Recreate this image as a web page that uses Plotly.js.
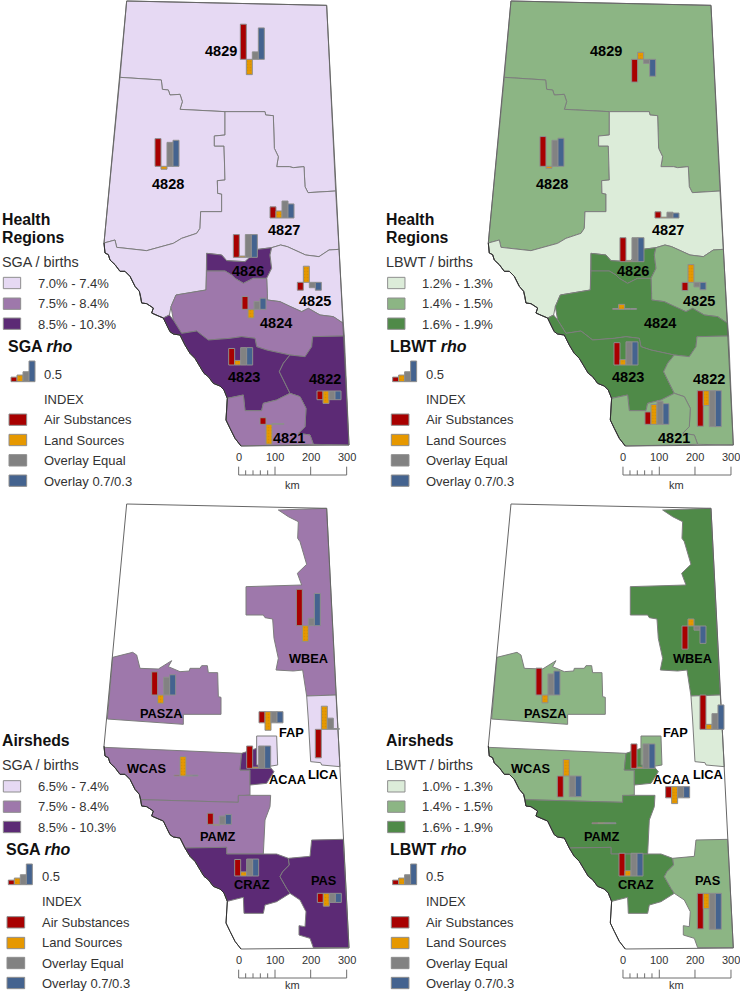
<!DOCTYPE html>
<html>
<head>
<meta charset="utf-8">
<script src="https://cdn.plot.ly/plotly-3.0.1.min.js"></script>
<style>html,body{margin:0;padding:0;background:#fff}#chart{width:740px;height:992px}</style>
</head>
<body>
<div id="chart"></div>
<script>
// map units: 3 per screen pixel, each panel has its own pair of axes
var indexNames = ['Air Substances', 'Land Sources', 'Overlay Equal', 'Overlay 0.7/0.3'];
var indexColors = ['#a80000', '#e69800', '#828282', '#44638f'];
var keyRho = [0.11, 0.16, 0.24, 0.5];

var healthNames = ['4829', '4828', '4827', '4826', '4825', '4824', '4823', '4822', '4821'];
var airshedNames = ['WBEA', 'PASZA', 'FAP', 'LICA', 'ACAA', 'WCAS', 'PAMZ', 'CRAZ', 'PAS'];

// rho by region: air, land, equal, 0.7/0.3
var sgaHealthRho = [[0.85, -0.37, 0.18, 0.76], [0.67, -0.07, 0.58, 0.63], [0.27, 0.17, 0.41, 0.34],
  [0.55, 0.03, 0.55, 0.55], [-0.19, 0.39, -0.13, -0.19], [0.31, -0.21, 0.19, 0.27],
  [0.40, 0.11, 0.42, 0.42], [-0.21, -0.30, -0.21, -0.21], [0.16, -0.48, 0.02, 0.02]];
var lbwtHealthRho = [[-0.55, 0.17, -0.10, -0.41], [0.72, -0.05, 0.63, 0.68], [0.15, 0.02, 0.14, 0.12],
  [0.58, 0.03, 0.58, 0.58], [-0.20, 0.43, -0.11, -0.18], [0.02, 0.12, 0.02, 0.02],
  [0.54, 0.13, 0.56, 0.56], [-0.86, -0.36, -0.87, -0.87], [0.30, 0.48, 0.56, 0.50]];
var sgaAirshedRho = [[0.88, -0.38, 0.18, 0.78], [0.56, -0.20, 0.43, 0.49], [-0.27, -0.45, -0.27, -0.27],
  [-0.69, 0.56, 0.27, 0.02], [0.54, 0.03, 0.54, 0.54], [0.02, 0.47, 0.02, 0.02],
  [0.27, -0.03, 0.20, 0.24], [0.40, 0.10, 0.41, 0.41], [-0.22, -0.31, -0.22, -0.22]];
var lbwtAirshedRho = [[-0.56, 0.17, -0.10, -0.42], [0.65, -0.19, 0.51, 0.58], [-0.27, -0.41, -0.27, -0.27],
  [0.83, 0.12, 0.38, 0.59], [0.59, 0.03, 0.59, 0.59], [-0.51, 0.40, -0.50, -0.50],
  [0.02, 0.02, 0.02, 0.02], [0.55, 0.13, 0.55, 0.55], [-0.86, -0.37, -0.87, -0.87]];

// rate class by region: 0 low, 1 mid, 2 high
var sgaHealthClass = [0, 0, 0, 2, 0, 1, 2, 2, 1];
var lbwtHealthClass = [1, 1, 0, 2, 1, 2, 2, 1, 1];
var sgaAirshedClass = [1, 1, 0, 0, 2, 1, 1, 2, 2];
var lbwtAirshedClass = [2, 1, 1, 0, 2, 1, 2, 2, 1];

var sgaHealthRanges = ['7.0% - 7.4%', '7.5% - 8.4%', '8.5% - 10.3%'];
var lbwtHealthRanges = ['1.2% - 1.3%', '1.4% - 1.5%', '1.6% - 1.9%'];
var sgaAirshedRanges = ['6.5% - 7.4%', '7.5% - 8.4%', '8.5% - 10.3%'];
var lbwtAirshedRanges = ['1.0% - 1.3%', '1.4% - 1.5%', '1.6% - 1.9%'];

var purples = ['#e6d9f3', '#9e78ab', '#5c2a75'];
var greens = ['#dcecd9', '#8cb584', '#4f8a48'];

// shared mountain border, north to south
var westBorder = [[312,729],[315,759],[325,764],[330,780],[345,794],[360,814],[375,814],[390,829],[405,859],[418,874],[422,890],[425,909],
  [440,911],[460,924],[455,939],[475,948],[490,954],[500,975],[510,995],[520,1002],[540,1005],[555,1035],[570,1060],[585,1075],[600,1100],
  [612,1120],[625,1130],[640,1150],[660,1158],[672,1170],[682,1195],[678,1260],[690,1285],[705,1315],[723,1338]];
function west(from, to) {
  var out = [];
  if (from <= to) { for (var i = from; i <= to; i++) out.push(westBorder[i]); }
  else { for (var j = from; j >= to; j--) out.push(westBorder[j]); }
  return out;
}

var provinceOutline = [[380,3],[980,16],[1010,600],[1047,1335]].concat(west(34, 0));

var healthShapes = [
  [[380,3],[980,16],[1007,573],[924,578],[915,560],[912,500],[880,503],[868,500],[830,500],[835,470],[823,445],[820,347],[797,345],
   [795,335],[675,335],[540,328],[547,305],[540,283],[510,285],[505,270],[487,268],[484,240],[360,232]],
  [[360,232],[484,240],[487,268],[505,270],[510,285],[540,283],[547,305],[540,328],[675,335],[675,405],[643,408],[643,438],[672,438],
   [675,540],[652,542],[653,580],[665,582],[665,635],[602,635],[600,685],[590,700],[545,715],[520,730],[440,752],[350,742],[345,720],[312,729]],
  [[675,335],[795,335],[797,345],[820,347],[823,445],[835,470],[830,500],[868,500],[880,503],[912,500],[915,560],[924,578],[1007,573],
   [1017,748],[987,750],[957,770],[917,765],[862,740],[842,735],[815,743],[775,748],[735,785],[680,782],[665,765],[620,760],[620,813],
   [618,870],[528,885],[513,920],[508,945]].concat(west(16, 0)).concat([[345,720],[350,742],[440,752],[520,730],[545,715],[590,700],[600,685],[602,635],
   [665,635],[665,582],[653,580],[652,542],[675,540],[672,438],[643,438],[643,408],[675,405]]),
  [[620,760],[665,765],[680,782],[735,785],[775,748],[815,743],[810,765],[815,805],[800,835],[760,835],[730,850],[705,835],[695,825],[675,813],[620,813]],
  [[815,743],[842,735],[862,740],[917,765],[957,770],[987,750],[1017,748],[1030,970],[1000,950],[960,945],[925,925],[905,935],[870,920],
   [840,905],[802,900],[802,880],[800,835],[815,805],[810,765]],
  [[513,920],[528,885],[618,870],[620,813],[675,813],[695,825],[705,835],[730,850],[760,835],[800,835],[802,880],[802,900],[840,905],
   [870,920],[905,935],[925,925],[960,945],[1000,950],[1030,970],[1033,1008],[938,1010],[935,1040],[915,1070],[870,1065],[800,1050],
   [770,1040],[765,1015],[725,1010],[690,1015],[625,1020],[590,993],[545,1000],[520,960]],
  [[490,954],[508,945],[520,960],[545,1000],[590,993],[625,1020],[690,1015],[725,1010],[765,1015],[770,1040],[800,1050],[870,1065],[850,1090],
   [838,1115],[855,1150],[870,1180],[830,1200],[790,1210],[785,1232],[735,1232],[730,1185]].concat(west(30, 17)),
  [[870,1065],[915,1070],[935,1040],[938,1010],[1033,1008],[1047,1335],[940,1333],[930,1305],[895,1300],[915,1280],[918,1225],[900,1190],
   [870,1180],[855,1150],[838,1115],[850,1090]],
  [[682,1195],[730,1185],[735,1232],[785,1232],[790,1210],[830,1200],[870,1180],[900,1190],[918,1225],[915,1280],[895,1300],[930,1305],
   [940,1333],[723,1338]].concat(west(33, 31))
];

var airshedShapes = [
  [[835,21],[980,16],[1008,576],[920,579],[908,501],[880,504],[828,501],[835,466],[822,406],[818,348],[795,344],[790,336],[738,336],[738,251],
   [905,246],[892,211],[920,184],[910,151],[900,116],[893,106],[895,56],[865,41]],
  [[338,463],[398,448],[410,456],[420,496],[475,498],[515,473],[505,491],[540,506],[568,504],[570,496],[600,496],[605,488],[622,488],[625,509],
   [653,509],[655,581],[663,583],[663,634],[550,634],[550,664],[322,648]],
  [[770,699],[830,699],[833,786],[808,790],[770,786]],
  [[920,579],[1008,576],[1020,791],[965,786],[962,779],[932,776],[925,651]],
  [[725,751],[770,736],[800,780],[822,806],[800,841],[750,846],[750,801],[720,801]],
  [[312,733],[725,751],[720,801],[750,801],[750,876],[715,879],[715,898],[422,890]].concat(west(9, 1)),
  [[422,890],[715,898],[715,877],[812,877],[810,911],[795,951],[790,1053],[680,1053],[680,1033],[555,1035]].concat(west(20, 11)),
  [[555,1035],[680,1033],[680,1053],[790,1053],[830,1053],[865,1066],[868,1086],[848,1106],[840,1121],[860,1156],[870,1171],[830,1196],[795,1206],
   [790,1231],[732,1231],[730,1183],[682,1195]].concat(west(29, 22)),
  [[865,1066],[930,1060],[935,1011],[1030,1009],[1047,1334],[940,1334],[930,1306],[897,1296],[897,1268],[915,1271],[918,1226],[900,1191],[870,1171],
   [860,1156],[840,1121],[848,1106],[868,1086]]
];
// drawing order for airsheds, FAP sits over ACAA
var airshedOrder = [0, 1, 3, 5, 6, 7, 8, 4, 2];
var healthOrder = [0, 1, 2, 3, 4, 5, 6, 7, 8];

var healthLabelPos = [[664,153],[503,553],[852,690],[745,812],[944,903],[827,970],[731,1131],[975,1138],[868,1313]];
var airshedLabelPos = [[925,466],[483,631],[873,689],[970,813],[862,829],[440,797],[651,1000],[755,1144],[972,1132]];

// left end and baseline of each little bar group
var sgaHealthAnchor = [[721,178],[465,499],[810,654],[700,772],[892,847],[726,928],[686,1095],[951,1173],[780,1273]];
var lbwtHealthAnchor = [[742,178],[467,499],[812,654],[707,785],[893,847],[685,928],[689,1095],[939,1172],[782,1273]];
var sgaAirshedAnchor = [[889,368],[455,576],[777,626],[946,679],[740,796],[522,819],[622,964],[704,1119],[952,1171]];
var lbwtAirshedAnchor = [[893,369],[455,576],[844,851],[947,679],[740,796],[519,819],[623,962],[704,1119],[939,1171]];

var scaleLabels = ['0', '100', '200', '300'];
var scaleMajorX = [716, 825, 932, 1040];
var scaleMinorX = [737, 759, 781, 803];

var panels = [
  {names: healthNames, shapes: healthShapes, order: healthOrder, labelPos: healthLabelPos, labelSize: 14.5, rho: sgaHealthRho, cls: sgaHealthClass,
   anchor: sgaHealthAnchor, colors: purples, ranges: sgaHealthRanges, title: ['Health', 'Regions'], rate: 'SGA / births', rhoTitle: 'SGA <i>rho</i>',
   xd: 6, xo: 0, yo: 0, top: 600, kmY: 1455, rhoY: 1040, swatchY: [832, 894, 954], textY: [850, 911, 972], rateY: 785, zeroY: 1123, indexY: 1197, keyY: 1145, sw: [1242, 1303, 1364, 1425], tx: [1259, 1320, 1381, 1443]},
  {names: healthNames, shapes: healthShapes, order: healthOrder, labelPos: healthLabelPos, labelSize: 14.5, rho: lbwtHealthRho, cls: lbwtHealthClass,
   anchor: lbwtHealthAnchor, colors: greens, ranges: lbwtHealthRanges, title: ['Health', 'Regions'], rate: 'LBWT / births', rhoTitle: 'LBWT <i>rho</i>',
   xd: 0, xo: 384.3, yo: 0, top: 600, kmY: 1455, rhoY: 1040, swatchY: [832, 894, 954], textY: [850, 911, 972], rateY: 785, zeroY: 1123, indexY: 1197, keyY: 1145, sw: [1242, 1303, 1364, 1425], tx: [1259, 1320, 1381, 1443]},
  {names: airshedNames, shapes: airshedShapes, order: airshedOrder, labelPos: airshedLabelPos, labelSize: 12.8, rho: sgaAirshedRho, cls: sgaAirshedClass,
   anchor: sgaAirshedAnchor, colors: purples, ranges: sgaAirshedRanges, title: ['Airsheds'], rate: 'SGA / births', rhoTitle: 'SGA <i>rho</i>',
   xd: 0, xo: 0, yo: 503, top: 713, kmY: 1447, rhoY: 1039, swatchY: [833, 894, 955], textY: [849, 911, 972], rateY: 785, zeroY: 1121, indexY: 1196, keyY: 1145, sw: [1241, 1303, 1363, 1423], tx: [1258, 1319, 1380, 1442]},
  {names: airshedNames, shapes: airshedShapes, order: airshedOrder, labelPos: airshedLabelPos, labelSize: 12.8, rho: lbwtAirshedRho, cls: lbwtAirshedClass,
   anchor: lbwtAirshedAnchor, colors: greens, ranges: lbwtAirshedRanges, title: ['Airsheds'], rate: 'LBWT / births', rhoTitle: 'LBWT <i>rho</i>',
   xd: 0, xo: 384.3, yo: 503, top: 713, kmY: 1447, rhoY: 1039, swatchY: [833, 894, 955], textY: [849, 911, 972], rateY: 785, zeroY: 1121, indexY: 1196, keyY: 1145, sw: [1241, 1303, 1363, 1423], tx: [1258, 1319, 1380, 1442]}
];

var RANGE_X = 1067, RANGE_Y = 1467, RHO_UNITS = 124, BAR_W = 18;
var FONT = 'Liberation Sans, Arial, sans-serif';
var data = [], shapes = [], annotations = [];
var layout = {
  width: 740, height: 992, margin: {l: 0, r: 0, t: 0, b: 0}, showlegend: false, barmode: 'overlay',
  paper_bgcolor: '#fff', plot_bgcolor: 'rgba(0,0,0,0)', font: {family: FONT, color: '#333'}
};

function axisId(n) { return n === 1 ? '' : String(n); }

panels.forEach(function (p, i) {
  var n = i + 1, over = i + 5;
  var xs = axisId(n), bx = axisId(over);
  var domX = [p.xo / 740, (p.xo + RANGE_X / 3) / 740];
  var domY = [1 - (p.yo + RANGE_Y / 3) / 992, 1 - p.yo / 992];
  var base = {visible: false, fixedrange: true};
  layout['xaxis' + xs] = Object.assign({}, base, {range: [0, RANGE_X], domain: domX, anchor: 'y' + xs});
  layout['yaxis' + xs] = Object.assign({}, base, {range: [RANGE_Y, 0], domain: domY, anchor: 'x' + xs});
  layout['xaxis' + bx] = Object.assign({}, base, {range: [0, RANGE_X], domain: domX, anchor: 'y' + bx, overlaying: 'x' + xs});
  layout['yaxis' + bx] = Object.assign({}, base, {range: [RANGE_Y, 0], domain: domY, anchor: 'x' + bx, overlaying: 'y' + xs});

  // regions, then outline, then the darker mountain border
  function poly(pts, fill, lineColor, closed) {
    var xv = pts.map(function (q) { return q[0]; });
    var yv = pts.map(function (q) { return q[1]; });
    if (closed) { xv.push(pts[0][0]); yv.push(pts[0][1]); }
    data.push({type: 'scatter', mode: 'lines', xaxis: 'x' + xs, yaxis: 'y' + xs, hoverinfo: 'skip', x: xv, y: yv,
      fill: fill ? 'toself' : 'none', fillcolor: fill || undefined, line: {color: lineColor, width: 1}});
  }
  p.order.forEach(function (r) { poly(p.shapes[r], p.colors[p.cls[r]], '#7d7d7d', true); });
  poly(provinceOutline, null, '#666', true);
  poly(westBorder, null, '#2e2e2e', false);

  // little bars, one trace per index, key group included
  indexNames.forEach(function (name, k) {
    var rows = p.rho.map(function (row, r) { return {left: p.anchor[r][0], base: p.anchor[r][1], v: row[k]}; });
    rows.push({left: 27 + p.xd - (i === 0 ? 0 : 2), base: p.keyY, v: keyRho[k]});
    var marker = {color: indexColors[k], line: {color: '#8e8e8e', width: 1}};
    if (k === 1) marker.pattern = {shape: '.', bgcolor: indexColors[k], fgcolor: '#d68f00', size: 3, solidity: 0.2};
    data.push({type: 'bar', name: name, xaxis: 'x' + bx, yaxis: 'y' + bx, hoverinfo: 'skip', width: BAR_W, marker: marker,
      x: rows.map(function (b) { return b.left + BAR_W / 2 + k * BAR_W; }),
      base: rows.map(function (b) { return b.base; }),
      y: rows.map(function (b) { return -b.v * RHO_UNITS; })});
  });

  function txt(x, y, text, size, opts) {
    annotations.push(Object.assign({xref: 'x' + xs, yref: 'y' + xs, x: x, y: y, text: text, showarrow: false, xanchor: 'left', yanchor: 'middle',
      borderpad: 0, font: {family: FONT, size: size, color: '#333'}}, opts || {}));
  }
  function rect(x0, y0, x1, y1, fill) {
    shapes.push({type: 'rect', xref: 'x' + xs, yref: 'y' + xs, x0: x0, y0: y0, x1: x1, y1: y1, fillcolor: fill, line: {color: '#8e8e8e', width: 1}});
  }

  p.names.forEach(function (name, r) {
    annotations.push({xref: 'x' + xs, yref: 'y' + xs, x: p.labelPos[r][0], y: p.labelPos[r][1], text: '<b>' + name + '</b>', showarrow: false,
      font: {family: FONT, size: p.labelSize, color: '#000'}});
  });

  // legend
  p.title.forEach(function (t, j) {
    var y = p.title.length === 2 ? [658, 713][j] : p.top;
    txt(3, y, '<b>' + t + '</b>', 15.8, {font: {family: FONT, size: 15.8, color: '#111'}});
  });
  txt(3, p.rateY, p.rate, 14.4);
  p.ranges.forEach(function (t, j) {
    rect(10, p.swatchY[j], 62, p.swatchY[j] + 34, p.colors[j]);
    txt(111, p.textY[j], t, 13);
  });
  txt(14 + p.xd, p.rhoY, '<b>' + p.rhoTitle + '</b>', 16, {font: {family: FONT, size: 16, color: '#111'}});
  txt(122 + p.xd, p.zeroY, '0.5', 13);
  txt(122 + p.xd, p.indexY, 'INDEX', 13);
  indexNames.forEach(function (name, k) {
    rect(21 + p.xd, p.sw[k], 74 + p.xd, p.sw[k] + 34, indexColors[k]);
    txt(122 + p.xd, p.tx[k], name, 13);
  });

  // scale bar
  var sx = [], sy = [];
  scaleMajorX.forEach(function (x) { sx.push(x, x, null); sy.push(1425, 1400, null); });
  scaleMinorX.forEach(function (x) { sx.push(x, x, null); sy.push(1425, 1411, null); });
  sx.push(scaleMajorX[0], scaleMajorX[3]); sy.push(1425, 1425);
  data.push({type: 'scatter', mode: 'lines', xaxis: 'x' + xs, yaxis: 'y' + xs, hoverinfo: 'skip', x: sx, y: sy, line: {color: '#6e6e6e', width: 1}});
  scaleLabels.forEach(function (t, j) { txt(scaleMajorX[j], 1371, t, 11, {xanchor: 'center'}); });
  txt(877, p.kmY, 'km', 11, {xanchor: 'center'});
});

layout.shapes = shapes;
layout.annotations = annotations;
Plotly.newPlot('chart', data, layout, {displayModeBar: false, staticPlot: true});
</script>
</body>
</html>
